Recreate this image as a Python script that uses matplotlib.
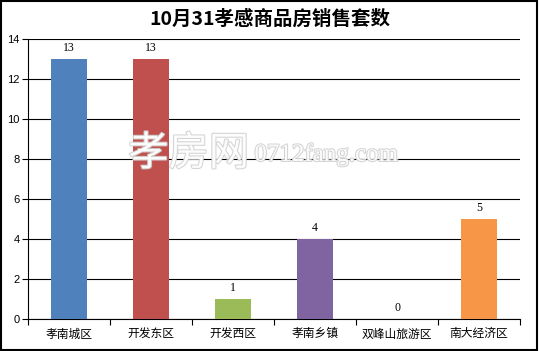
import matplotlib
matplotlib.use("Agg")
import matplotlib.pyplot as plt
import matplotlib.patheffects as pe
import numpy as np

plt.rcParams['font.family'] = ['Noto Sans CJK SC', 'DejaVu Sans']

### DATA ######################################################################
title = "10月31孝感商品房销售套数"
districts = ["孝南城区", "开发东区", "开发西区", "孝南乡镇", "双峰山旅游区", "南大经济区"]
sales = [13, 13, 1, 4, 0, 5]
bar_colors = ["#4f81bd", "#c0504d", "#9bbb59", "#8064a2", "#4bacc6", "#f79646"]

### PLOT ######################################################################
fig = plt.figure(figsize=(5.39, 3.51), dpi=100)
ax = fig.add_axes([0.052, 0.091, 0.913, 0.798])

x = np.arange(len(districts))
ax.bar(x, sales, width=0.43, color=bar_colors, zorder=3)
for xi, v in zip(x, sales):
    ax.text(xi, v + 0.25, str(v), ha="center", va="bottom", fontsize=8.5,
            family=["Liberation Serif"], zorder=4)

ax.set_xlim(-0.5, len(districts) - 0.5)
ax.set_ylim(0, 14)
ax.set_yticks(range(0, 15, 2))
ax.yaxis.grid(True, color="black", linewidth=0.8, zorder=0)
ax.set_xticks(np.arange(-0.5, len(districts), 1.0), minor=False)
ax.set_xticklabels([])
ax.set_xticks(x, minor=True)
ax.set_xticklabels(districts, minor=True, fontsize=8.5)
ax.tick_params(axis="x", which="minor", length=0, pad=6)
ax.tick_params(axis="x", which="major", length=4, direction="out", color="black")
ax.tick_params(axis="y", length=4, direction="out", labelsize=8, pad=2)
for lbl in ax.get_yticklabels():
    lbl.set_family(["Liberation Sans"])
for side in ["top", "right"]:
    ax.spines[side].set_visible(False)
ax.spines["left"].set_linewidth(0.8)
ax.spines["bottom"].set_linewidth(0.8)

fig.text(0.5, 0.945, title, ha="center", va="center", fontsize=14, fontweight="bold")

# watermark
stroke = [pe.withStroke(linewidth=1.5, foreground="#d0d0d0")]
fig.text(0.238, 0.562, "孝房网", fontsize=29, color="white", ha="left", va="center",
         path_effects=stroke, alpha=0.9, zorder=5)
fig.text(0.472, 0.560, "0712fang.com", fontsize=18, color="white", ha="left", va="center",
         family=["Liberation Serif"], path_effects=stroke, alpha=0.9, zorder=5)

# outer border
fig.patches.append(plt.Rectangle((0.002, 0.003), 0.995, 0.994, transform=fig.transFigure,
                                 fill=False, edgecolor="black", linewidth=1.5))

fig.savefig("out.png", dpi=100)
